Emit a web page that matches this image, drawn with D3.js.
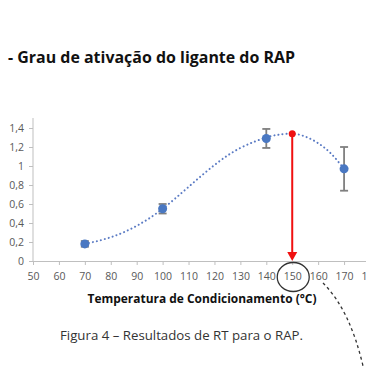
<!DOCTYPE html>
<html>
<head>
<meta charset="utf-8">
<script src="https://cdn.jsdelivr.net/npm/d3@7"></script>
<style>
  body { margin: 0; background: #fff; }
  svg { display: block; }
</style>
</head>
<body>
<svg id="chart" width="366" height="366"></svg>
<script>
// measured points (temperature, RT, error)
const temps = [70, 100, 140, 170];
const values = [0.18, 0.55, 1.29, 0.97];
const errors = [0.03, 0.05, 0.1, 0.23];

// trendline
const trendX = [70, 80, 90, 100, 110, 120, 130, 140, 145, 150, 155, 160, 165, 170];
const trendY = [0.18, 0.25, 0.37, 0.55, 0.78, 1.01, 1.19, 1.3, 1.33, 1.34, 1.31, 1.24, 1.13, 0.97];

const peak = { t: 150, v: 1.34 };

const xTicks = [50, 60, 70, 80, 90, 100, 110, 120, 130, 140, 150, 160, 170, 180];
const yTicks = [0, 0.2, 0.4, 0.6, 0.8, 1, 1.2, 1.4];

const svg = d3.select("#chart");
const axisColor = "#bfbfbf";
const labelColor = "#595959";
const font = "Open Sans, sans-serif";

const x = d3.scaleLinear().domain([50, 180]).range([33, 370]);
const y = d3.scaleLinear().domain([0, 1.4]).range([261, 128]);

// title
svg.append("text")
  .attr("x", 8).attr("y", 63)
  .attr("font-family", font).attr("font-weight", "bold")
  .attr("font-size", 15.5).attr("fill", "#111")
  .attr("textLength", 287).attr("lengthAdjust", "spacingAndGlyphs")
  .text("- Grau de ativação do ligante do RAP");

// axes
const gx = svg.append("g")
  .attr("transform", "translate(0," + y(0) + ")")
  .call(d3.axisBottom(x).tickValues(xTicks).tickSize(4).tickPadding(8).tickFormat(d3.format("d")));
const gy = svg.append("g")
  .attr("transform", "translate(" + x(50) + ",0)")
  .call(d3.axisLeft(y).tickValues(yTicks).tickSize(4).tickPadding(5)
    .tickFormat(d => String(d).replace(".", ",")));

svg.selectAll(".domain").attr("stroke", axisColor);
svg.selectAll(".tick line").attr("stroke", axisColor);
svg.selectAll(".tick text")
  .attr("fill", labelColor).attr("font-family", font).attr("font-size", 10.5);
gy.select(".domain").attr("d", "M0,118V" + y(0));

// trendline
const line = d3.line()
  .x((d, i) => x(trendX[i]))
  .y(d => y(d))
  .curve(d3.curveNatural);
svg.append("path")
  .attr("d", line(trendY))
  .attr("fill", "none")
  .attr("stroke", "#5b7bc4")
  .attr("stroke-width", 2)
  .attr("stroke-linecap", "round")
  .attr("stroke-dasharray", "0.1,4");

// error bars
const eb = svg.append("g").attr("stroke", "#7f7f7f").attr("stroke-width", 1.8);
temps.forEach((t, i) => {
  const cx = x(t);
  const top = y(values[i] + errors[i]), bot = y(values[i] - errors[i]);
  eb.append("line").attr("x1", cx).attr("x2", cx).attr("y1", top).attr("y2", bot);
  eb.append("line").attr("x1", cx - 4).attr("x2", cx + 4).attr("y1", top).attr("y2", top);
  eb.append("line").attr("x1", cx - 4).attr("x2", cx + 4).attr("y1", bot).attr("y2", bot);
});

// points
svg.append("g").selectAll("circle")
  .data(temps)
  .join("circle")
  .attr("cx", d => x(d))
  .attr("cy", (d, i) => y(values[i]))
  .attr("r", 4.5)
  .attr("fill", "#4a78c2");

// red arrow
svg.append("line")
  .attr("x1", x(peak.t)).attr("x2", x(peak.t))
  .attr("y1", y(peak.v)).attr("y2", y(0) - 8)
  .attr("stroke", "#f01010").attr("stroke-width", 2);
svg.append("path")
  .attr("d", "M" + (x(peak.t) - 5) + "," + (y(0) - 9) + "L" + (x(peak.t) + 5) + "," + (y(0) - 9) + "L" + x(peak.t) + "," + y(0) + "Z")
  .attr("fill", "#f01010");
svg.append("circle")
  .attr("cx", x(peak.t)).attr("cy", y(peak.v)).attr("r", 3.5)
  .attr("fill", "#f01010");

// circle round 150 label and dashed lead
svg.append("ellipse")
  .attr("cx", x(150) + 1).attr("cy", 277).attr("rx", 16).attr("ry", 14.5)
  .attr("fill", "none").attr("stroke", "#333").attr("stroke-width", 1.3);
svg.append("path")
  .attr("d", "M323,283 Q350,310 363,366")
  .attr("fill", "none").attr("stroke", "#333").attr("stroke-width", 1.3)
  .attr("stroke-dasharray", "3,3");

// axis title
svg.append("text")
  .attr("x", 202).attr("y", 303)
  .attr("text-anchor", "middle")
  .attr("font-family", font).attr("font-weight", "bold")
  .attr("font-size", 12).attr("fill", "#111")
  .attr("textLength", 229).attr("lengthAdjust", "spacingAndGlyphs")
  .text("Temperatura de Condicionamento (°C)");

// caption
svg.append("text")
  .attr("x", 60).attr("y", 340)
  .attr("font-family", font)
  .attr("font-size", 12).attr("fill", "#333")
  .attr("textLength", 243).attr("lengthAdjust", "spacingAndGlyphs")
  .text("Figura 4 – Resultados de RT para o RAP.");
</script>
</body>
</html>
